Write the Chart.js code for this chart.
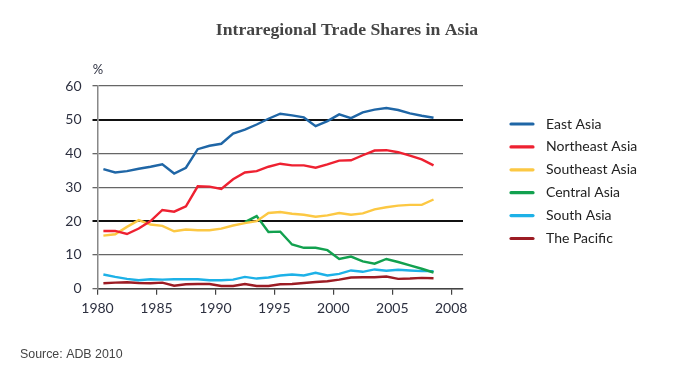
<!DOCTYPE html>
<html>
<head>
<meta charset="utf-8">
<script src="https://cdn.jsdelivr.net/npm/chart.js@4.4.1/dist/chart.umd.min.js"></script>
<style>
  html, body { margin: 0; padding: 0; background: #fff; }
  #wrap { width: 677px; height: 377px; }
</style>
</head>
<body>
<div id="wrap"><canvas id="tradeChart" width="677" height="377"></canvas></div>
<script>
// years plotted at mid-year, 1980 - 2008
var years = [1980, 1981, 1982, 1983, 1984, 1985, 1986, 1987, 1988, 1989,
  1990, 1991, 1992, 1993, 1994, 1995, 1996, 1997, 1998, 1999,
  2000, 2001, 2002, 2003, 2004, 2005, 2006, 2007, 2008];

var eastAsia = [35.4, 34.4, 34.8, 35.5, 36.1, 36.8, 34.1, 35.8, 41.3, 42.3,
  42.9, 45.9, 47.1, 48.6, 50.3, 51.8, 51.3, 50.7, 48.1, 49.6,
  51.6, 50.5, 52.2, 53.0, 53.5, 52.9, 51.9, 51.2, 50.6];
var northeastAsia = [17.1, 17.1, 16.2, 17.8, 20.0, 23.3, 22.8, 24.4, 30.3, 30.2,
  29.5, 32.4, 34.4, 34.8, 36.1, 37.0, 36.5, 36.5, 35.8, 36.8,
  37.9, 38.0, 39.5, 40.9, 41.0, 40.4, 39.4, 38.3, 36.5];
var southeastAsia = [15.7, 16.1, 18.3, 20.3, 19.0, 18.6, 17.0, 17.5, 17.3, 17.3,
  17.8, 18.7, 19.4, 20.0, 22.4, 22.7, 22.2, 21.9, 21.3, 21.7,
  22.4, 21.9, 22.3, 23.5, 24.1, 24.6, 24.8, 24.8, 26.4];
var centralAsia = [null, null, null, null, null, null, null, null, null, null,
  null, null, 19.7, 21.5, 16.8, 16.9, 13.1, 12.1, 12.1, 11.4,
  8.8, 9.5, 8.1, 7.4, 8.8, 7.9, 6.9, 5.9, 4.8];
var southAsia = [4.2, 3.5, 2.9, 2.5, 2.8, 2.7, 2.8, 2.8, 2.8, 2.5,
  2.5, 2.7, 3.5, 3.0, 3.3, 3.9, 4.2, 3.9, 4.7, 3.9,
  4.4, 5.4, 5.0, 5.7, 5.3, 5.6, 5.4, 5.2, 5.2];
var thePacific = [1.6, 1.8, 1.9, 1.7, 1.6, 1.8, 0.9, 1.3, 1.4, 1.4,
  0.8, 0.8, 1.4, 0.8, 0.8, 1.3, 1.4, 1.7, 2.0, 2.2,
  2.7, 3.3, 3.4, 3.4, 3.6, 2.9, 3.0, 3.2, 3.1];

var seriesNames = ["East Asia", "Northeast Asia", "Southeast Asia", "Central Asia", "South Asia", "The Pacific"];
var seriesColors = ["#1f66a6", "#ee2131", "#fcc843", "#12a14f", "#1db1e7", "#9c1c24"];

// axis ticks (last tick sits at 2010 but reads 2008 in the original)
var xTickValues = [1980, 1985, 1990, 1995, 2000, 2005, 2010];
var xTickLabels = ["1980", "1985", "1990", "1995", "2000", "2005", "2008"];
var yTickValues = [0, 10, 20, 30, 40, 50, 60];

var labelFont = "Lato, 'Open Sans', sans-serif";
var labelColor = "#2d3040";

function toPoints(vals) {
  return years.map(function (yr, i) { return { x: yr + 0.5, y: vals[i] }; });
}

var allSeries = [eastAsia, northeastAsia, southeastAsia, centralAsia, southAsia, thePacific];
var datasets = allSeries.map(function (vals, i) {
  return {
    label: seriesNames[i],
    data: toPoints(vals),
    borderColor: seriesColors[i],
    backgroundColor: seriesColors[i],
    borderWidth: 2.4,
    pointRadius: 0,
    tension: 0,
    fill: false,
    spanGaps: false
  };
});

// title, % unit, source note and legend
var decorations = {
  id: 'decorations',
  afterDraw: function (chart) {
    var ctx = chart.ctx;
    ctx.save();
    ctx.fillStyle = '#444';
    ctx.font = "bold 17.7px 'Liberation Serif', serif";
    ctx.textAlign = 'center';
    ctx.textBaseline = 'middle';
    ctx.fillText("Intraregional Trade Shares in Asia", 347, 30);

    ctx.fillStyle = labelColor;
    ctx.font = "13px " + labelFont;
    ctx.fillText("%", 98, 70);

    ctx.fillStyle = '#444';
    ctx.font = "12.4px 'Liberation Sans', Arial, sans-serif";
    ctx.textAlign = 'left';
    ctx.fillText("Source: ADB 2010", 20, 355);

    ctx.font = "14px " + labelFont;
    ctx.lineCap = 'round';
    chart.data.datasets.forEach(function (ds, i) {
      var y = 124 + i * 22.9;
      ctx.strokeStyle = ds.borderColor;
      ctx.lineWidth = 3.2;
      ctx.beginPath();
      ctx.moveTo(511, y);
      ctx.lineTo(533, y);
      ctx.stroke();
      ctx.fillStyle = '#222';
      ctx.fillText(ds.label, 546, y);
    });
    ctx.restore();
  }
};

var ctx = document.getElementById('tradeChart').getContext('2d');
var chart = new Chart(ctx, {
  type: 'line',
  data: { datasets: datasets },
  options: {
    responsive: false,
    animation: false,
    layout: { padding: { left: 0, top: 86, right: 214, bottom: 48.3 } },
    plugins: {
      legend: { display: false },
      title: { display: false },
      tooltip: { enabled: false }
    },
    scales: {
      x: {
        type: 'linear',
        min: 1980,
        max: 2011,
        afterBuildTicks: function (scale) {
          scale.ticks = xTickValues.map(function (v) { return { value: v }; });
        },
        afterFit: function (scale) { scale.height = 40; },
        grid: {
          display: true,
          drawOnChartArea: false,
          drawTicks: true,
          tickLength: 6,
          color: '#444',
          lineWidth: 1.2
        },
        border: { display: true, color: '#444', width: 1.5 },
        ticks: {
          padding: 5,
          maxRotation: 0,
          autoSkip: false,
          color: labelColor,
          font: { family: labelFont, size: 14 },
          callback: function (value, index) { return xTickLabels[index]; }
        }
      },
      y: {
        min: 0,
        max: 60,
        afterBuildTicks: function (scale) {
          scale.ticks = yTickValues.map(function (v) { return { value: v }; });
        },
        afterFit: function (scale) { scale.width = 97.5; },
        grid: {
          drawTicks: true,
          tickLength: 5,
          color: function (c) {
            return (c.tick && (c.tick.value === 50 || c.tick.value === 20)) ? '#111' : '#666';
          },
          lineWidth: function (c) {
            return (c.tick && (c.tick.value === 50 || c.tick.value === 20)) ? 2 : 1.3;
          }
        },
        border: { display: true, color: '#888', width: 1.5 },
        ticks: {
          padding: 11,
          color: labelColor,
          font: { family: labelFont, size: 14 }
        }
      }
    }
  },
  plugins: [decorations]
});
</script>
</body>
</html>
